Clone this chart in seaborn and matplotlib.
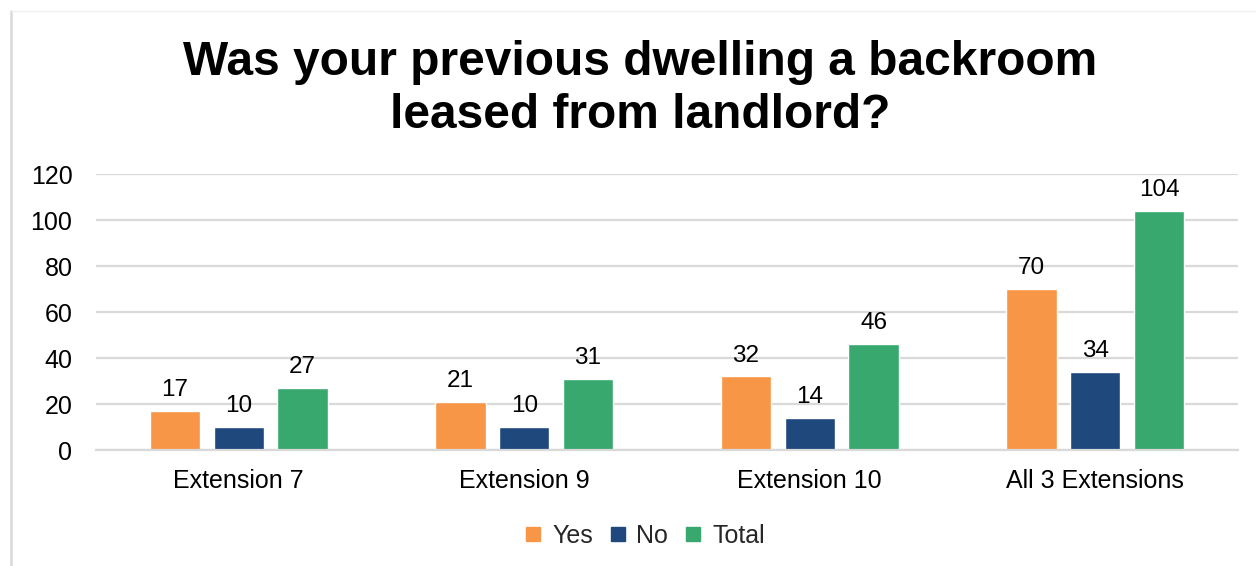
import matplotlib
matplotlib.use("Agg")
import matplotlib.pyplot as plt
from matplotlib.lines import Line2D
import seaborn as sns
import pandas as pd

categories = ["Extension 7", "Extension 9", "Extension 10", "All 3 Extensions"]
series_names = ["Yes", "No", "Total"]
yes_values = [17, 21, 32, 70]
no_values = [10, 10, 14, 34]
total_values = [27, 31, 46, 104]
y_ticks = [0, 20, 40, 60, 80, 100, 120]
title = "Was your previous dwelling a backroom\nleased from landlord?"

colors = {"Yes": "#F79646", "No": "#1F497D", "Total": "#38A86F"}

df = pd.DataFrame({
    "category": categories * 3,
    "series": [s for s in series_names for _ in categories],
    "value": yes_values + no_values + total_values,
})

sns.set_theme(style="white")
plt.rcParams["font.family"] = ["Liberation Sans", "DejaVu Sans"]

fig = plt.figure(figsize=(12.56, 5.66), dpi=100)
ax = fig.add_axes([96 / 1256, 1 - 450 / 566, (1238 - 96) / 1256, (450 - 174) / 566])

sns.barplot(data=df, x="category", y="value", hue="series", order=categories,
            hue_order=series_names, palette=colors, width=0.67, gap=0.215,
            saturation=1, ax=ax, legend=False)

for cont in ax.containers:
    ax.bar_label(cont, fmt="%d", padding=7, fontsize=17.5, color="#000000")

ax.set_ylim(0, 120)
ax.set_xlim(-0.5, len(categories) - 0.5)
ax.set_yticks(y_ticks)
ax.yaxis.grid(True, color="#D9D9D9", linewidth=1.6)
ax.set_axisbelow(True)
for side in ["top", "right", "left"]:
    ax.spines[side].set_visible(False)
ax.spines["bottom"].set_color("#D9D9D9")
ax.spines["bottom"].set_linewidth(1.6)
ax.tick_params(axis="both", length=0, labelsize=18, labelcolor="#000000")
ax.tick_params(axis="x", pad=14)
ax.tick_params(axis="y", pad=17)
ax.set_xlabel("")
ax.set_ylabel("")

fig.text(640 / 1256, 1 - 89 / 566, title, ha="center", va="center",
         fontsize=34.5, fontweight="bold", linespacing=1.25, color="#000000")

handles = [Line2D([0], [0], marker="s", linestyle="none", markersize=10,
                  markerfacecolor=colors[s], markeredgecolor=colors[s]) for s in series_names]
fig.legend(handles, series_names, loc="center", bbox_to_anchor=(644 / 1256, 1 - 536 / 566),
           ncol=3, frameon=False, fontsize=18, handlelength=0.8, handletextpad=0.35,
           columnspacing=0.6)

# chart frame edges
fig.add_artist(Line2D([11 / 1256, 11 / 1256], [0, 1 - 11 / 566], transform=fig.transFigure,
                      color="#D9D9D9", linewidth=1.8))
fig.add_artist(Line2D([11 / 1256, 1], [1 - 11 / 566, 1 - 11 / 566], transform=fig.transFigure,
                      color="#F0F0F0", linewidth=1.0))

fig.savefig("out.png", dpi=100)
